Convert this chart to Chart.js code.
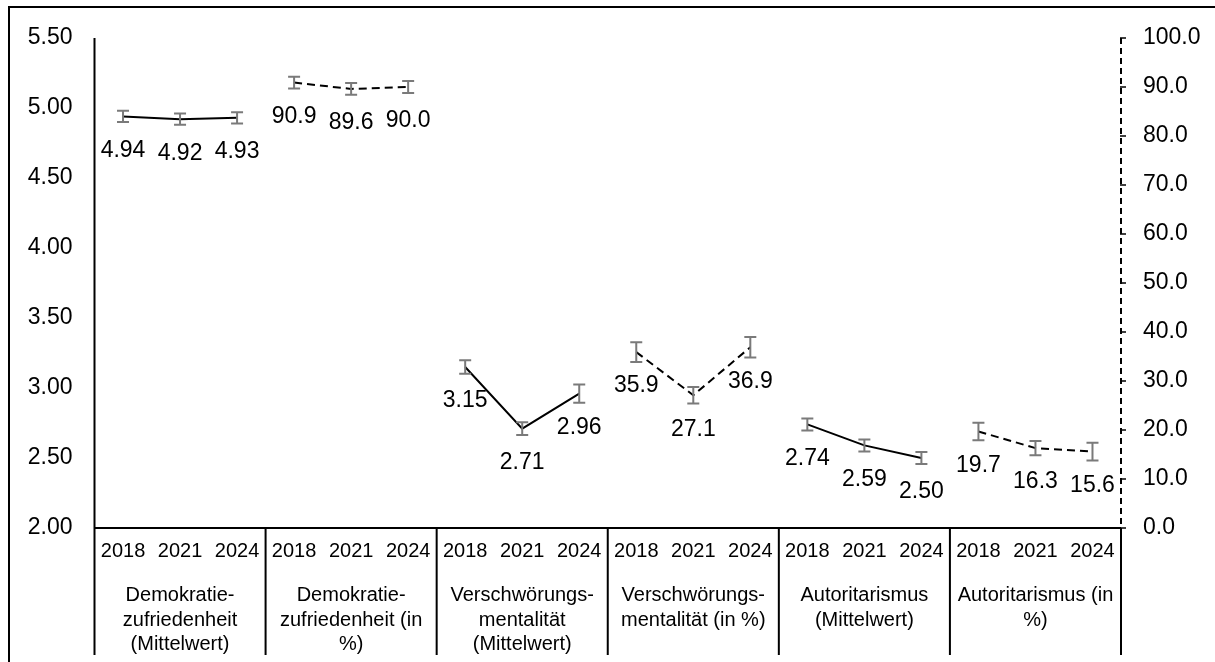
<!DOCTYPE html>
<html>
<head>
<meta charset="utf-8">
<script src="https://cdn.jsdelivr.net/npm/chart.js@4/dist/chart.umd.min.js"></script>
<style>
  html, body { margin: 0; padding: 0; background: #fff; overflow: hidden; }
  #wrap { position: relative; width: 1215px; height: 662px; }
  #frame { position: absolute; left: 8px; top: 6px; right: -10px; bottom: -10px; border-left: 2px solid #000; border-top: 2px solid #000; pointer-events: none; }
  canvas { position: absolute; left: 0; top: 0; }
</style>
</head>
<body>
<div id="wrap">
  <canvas id="c" width="1215" height="662"></canvas>
  <div id="frame"></div>
</div>
<script>
// ---- data ----
const years = ["2018", "2021", "2024"];
const groupLabels = [
  ["Demokratie-", "zufriedenheit", "(Mittelwert)"],
  ["Demokratie-", "zufriedenheit (in", "%)"],
  ["Verschwörungs-", "mentalität", "(Mittelwert)"],
  ["Verschwörungs-", "mentalität (in %)"],
  ["Autoritarismus", "(Mittelwert)"],
  ["Autoritarismus (in", "%)"]
];
const leftTicks = [2.0, 2.5, 3.0, 3.5, 4.0, 4.5, 5.0, 5.5];
const rightTicks = [0, 10, 20, 30, 40, 50, 60, 70, 80, 90, 100];

const demokratieMittel = [4.94, 4.92, 4.93];
const demokratieMittelErr = [0.04, 0.04, 0.04];
const demokratieProzent = [90.9, 89.6, 90.0];
const demokratieProzentErr = [1.2, 1.2, 1.2];
const verschwoerungMittel = [3.15, 2.71, 2.96];
const verschwoerungMittelErr = [0.048, 0.045, 0.065];
const verschwoerungProzent = [35.9, 27.1, 36.9];
const verschwoerungProzentErr = [2.0, 1.7, 2.1];
const autoritarismusMittel = [2.74, 2.59, 2.50];
const autoritarismusMittelErr = [0.043, 0.043, 0.043];
const autoritarismusProzent = [19.7, 16.3, 15.6];
const autoritarismusProzentErr = [1.8, 1.45, 1.8];

// ---- build ----
const FONT = "'Liberation Sans', Arial, sans-serif";
const series = [
  { v: demokratieMittel, e: demokratieMittelErr, axis: 'y', pct: false },
  { v: demokratieProzent, e: demokratieProzentErr, axis: 'y1', pct: true },
  { v: verschwoerungMittel, e: verschwoerungMittelErr, axis: 'y', pct: false },
  { v: verschwoerungProzent, e: verschwoerungProzentErr, axis: 'y1', pct: true },
  { v: autoritarismusMittel, e: autoritarismusMittelErr, axis: 'y', pct: false },
  { v: autoritarismusProzent, e: autoritarismusProzentErr, axis: 'y1', pct: true }
];
const labels = [];
groupLabels.forEach(() => years.forEach(y => labels.push(y)));
const n = labels.length;

const datasets = series.map((s, gi) => {
  const data = new Array(n).fill(null);
  s.v.forEach((val, k) => { data[gi * 3 + k] = val; });
  return {
    data,
    yAxisID: s.axis,
    borderColor: '#000',
    borderWidth: 2,
    borderDash: s.pct ? [8, 5] : [],
    pointRadius: 0,
    pointHoverRadius: 0,
    spanGaps: false,
    fill: false,
    tension: 0,
    _err: s.e,
    _group: gi,
    _pct: s.pct
  };
});

const decor = {
  id: 'decor',
  afterDatasetsDraw(chart) {
    const ctx = chart.ctx;
    const x = chart.scales.x, y = chart.scales.y, y1 = chart.scales.y1;
    const ca = chart.chartArea;
    ctx.save();
    // error bars
    chart.data.datasets.forEach(ds => {
      const sc = chart.scales[ds.yAxisID];
      ds.data.forEach((val, i) => {
        if (val === null) return;
        const k = i - ds._group * 3;
        const err = ds._err[k];
        const px = x.getPixelForValue(i);
        const yt = sc.getPixelForValue(val + err);
        const yb = sc.getPixelForValue(val - err);
        ctx.strokeStyle = '#7a7a7a';
        ctx.lineWidth = 2;
        ctx.setLineDash([]);
        ctx.beginPath();
        ctx.moveTo(px, yt); ctx.lineTo(px, yb);
        ctx.moveTo(px - 6, yt); ctx.lineTo(px + 6, yt);
        ctx.moveTo(px - 6, yb); ctx.lineTo(px + 6, yb);
        ctx.stroke();
      });
    });
    // value labels
    ctx.fillStyle = '#000';
    ctx.font = '23px ' + FONT;
    ctx.textAlign = 'center';
    ctx.textBaseline = 'middle';
    chart.data.datasets.forEach(ds => {
      const sc = chart.scales[ds.yAxisID];
      ds.data.forEach((val, i) => {
        if (val === null) return;
        const px = x.getPixelForValue(i);
        const py = sc.getPixelForValue(val);
        ctx.fillText(ds._pct ? val.toFixed(1) : val.toFixed(2), px, py + 34);
      });
    });
    // axes lines
    ctx.strokeStyle = '#000';
    ctx.lineWidth = 2;
    ctx.setLineDash([]);
    ctx.beginPath();
    ctx.moveTo(ca.left, ca.top); ctx.lineTo(ca.left, 655);
    ctx.moveTo(ca.left, ca.bottom); ctx.lineTo(ca.right, ca.bottom);
    ctx.stroke();
    // group dividers
    const step = (ca.right - ca.left) / n;
    ctx.beginPath();
    for (let g = 1; g <= groupLabels.length; g++) {
      const gx = ca.left + step * 3 * g;
      ctx.moveTo(gx, ca.bottom); ctx.lineTo(gx, 655);
    }
    ctx.stroke();
    // right axis dashed
    ctx.setLineDash([6, 4]);
    ctx.beginPath();
    ctx.moveTo(ca.right, ca.top); ctx.lineTo(ca.right, ca.bottom);
    ctx.stroke();
    ctx.setLineDash([]);
    ctx.lineWidth = 1.5;
    ctx.beginPath();
    rightTicks.forEach(t => {
      const ty = y1.getPixelForValue(t);
      ctx.moveTo(ca.right - 1, ty); ctx.lineTo(ca.right + 5, ty);
    });
    ctx.stroke();
    // group labels
    ctx.fillStyle = '#000';
    ctx.font = '20px ' + FONT;
    ctx.textAlign = 'center';
    ctx.textBaseline = 'alphabetic';
    groupLabels.forEach((lines, g) => {
      const cx = ca.left + step * (3 * g + 1.5);
      lines.forEach((ln, li) => ctx.fillText(ln, cx, 601 + li * 24.5));
    });
    ctx.restore();
  }
};

new Chart(document.getElementById('c'), {
  type: 'line',
  data: { labels, datasets },
  options: {
    responsive: false,
    animation: false,
    devicePixelRatio: 1,
    layout: { padding: { top: 38, left: 0, right: 0, bottom: 0 } },
    plugins: { legend: { display: false }, tooltip: { enabled: false } },
    events: [],
    scales: {
      x: {
        type: 'category',
        offset: true,
        grid: { display: false, drawTicks: false },
        border: { display: false },
        ticks: { color: '#000', font: { size: 20, family: FONT }, padding: 11, maxRotation: 0, autoSkip: false },
        afterFit(s) { s.height = 134; }
      },
      y: {
        position: 'left',
        min: leftTicks[0],
        max: leftTicks[leftTicks.length - 1],
        afterBuildTicks(s) { s.ticks = leftTicks.map(v => ({ value: v })); },
        grid: { display: false, drawTicks: false },
        border: { display: false },
        ticks: { color: '#000', font: { size: 23, family: FONT }, padding: 22, callback: v => Number(v).toFixed(2) },
        afterFit(s) { s.width = 94.5; }
      },
      y1: {
        position: 'right',
        min: rightTicks[0],
        max: rightTicks[rightTicks.length - 1],
        afterBuildTicks(s) { s.ticks = rightTicks.map(v => ({ value: v })); },
        grid: { display: false, drawTicks: false },
        border: { display: false },
        ticks: { color: '#000', font: { size: 23, family: FONT }, padding: 22, callback: v => Number(v).toFixed(1) },
        afterFit(s) { s.width = 94; }
      }
    }
  },
  plugins: [decor]
});
</script>
</body>
</html>
